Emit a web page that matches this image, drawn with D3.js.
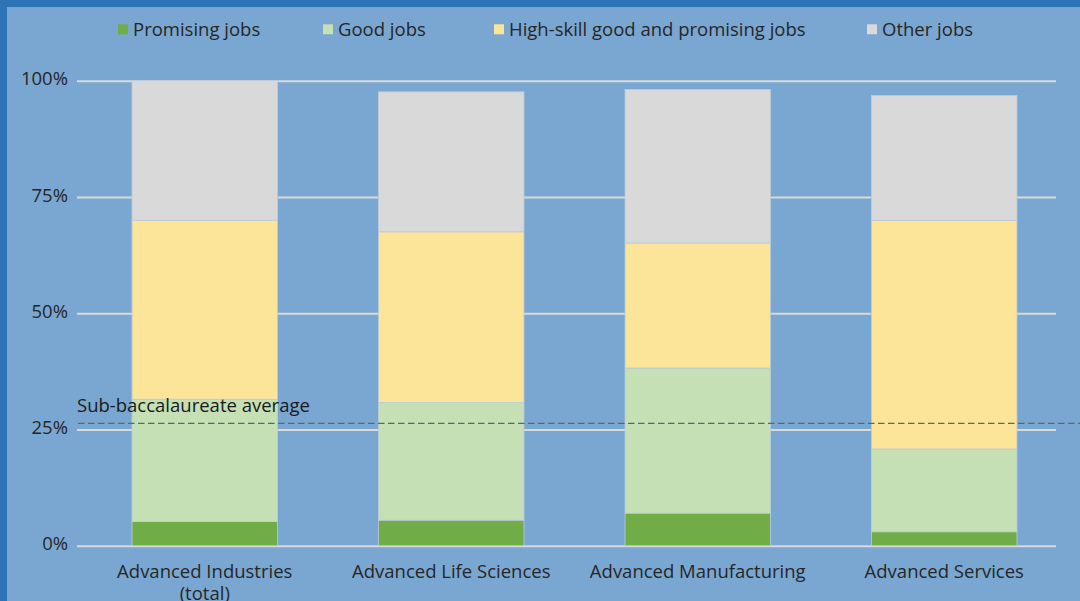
<!DOCTYPE html>
<html>
<head>
<meta charset="utf-8">
<script src="https://cdn.jsdelivr.net/npm/d3@7"></script>
<style>
  body { margin: 0; background: #7aa7d1; }
  text { font-family: "Open Sans", sans-serif; fill: #262626; }
</style>
</head>
<body>
<div id="grafica"></div>
<script>
// datos del grafico (porcentaje del empleo)
const categories = ["Advanced Industries (total)", "Advanced Life Sciences", "Advanced Manufacturing", "Advanced Services"];
const seriesNames = ["Promising jobs", "Good jobs", "High-skill good and promising jobs", "Other jobs"];
const promisingJobs = [5.2, 5.5, 7.0, 3.0];
const goodJobs = [26.3, 25.3, 31.2, 17.8];
const highSkillJobs = [38.5, 36.7, 26.9, 49.2];
const otherJobs = [30.0, 30.1, 33.0, 26.8];
const yTicks = [0, 25, 50, 75, 100];
const subBaccAverage = 26.3;
const subBaccLabel = "Sub-baccalaureate average";

// estilos
const colors = ["#70ad47", "#c5e0b4", "#fce598", "#d9d9d9"];
const width = 1080, height = 601;
const fontSize = 18.5;
const legendX = [118, 323, 494, 867];

const rows = categories.map((c, i) => ({
  category: c,
  "Promising jobs": promisingJobs[i],
  "Good jobs": goodJobs[i],
  "High-skill good and promising jobs": highSkillJobs[i],
  "Other jobs": otherJobs[i]
}));
const stacked = d3.stack().keys(seriesNames)(rows);

const svg = d3.select("#grafica").append("svg")
  .attr("width", width)
  .attr("height", height);

svg.append("rect").attr("width", width).attr("height", height).attr("fill", "#7aa7d1");
// borde azul oscuro arriba e izquierda
svg.append("rect").attr("width", width).attr("height", 7).attr("fill", "#2e75b6");
svg.append("rect").attr("width", 7).attr("height", height).attr("fill", "#2e75b6");

const y = d3.scaleLinear().domain([0, 100]).range([545.7, 80.7]);
const x = d3.scaleBand().domain(categories).range([81.5, 1067.5])
  .paddingInner(0.41).paddingOuter(0.205);

// eje Y con lineas de grilla
const gridLeft = 77, gridRight = 1056;
const yAxis = svg.append("g")
  .attr("transform", `translate(${gridLeft},0)`)
  .call(d3.axisLeft(y).tickValues(yTicks).tickFormat(d => d + "%")
    .tickSize(-(gridRight - gridLeft)).tickPadding(9));
yAxis.select(".domain").remove();
yAxis.selectAll("line").attr("stroke", "#d9d9d9").attr("stroke-width", 2);
yAxis.selectAll("text")
  .attr("font-size", fontSize)
  .attr("dy", "0.22em")
  .style("font-family", null);

// barras apiladas
svg.append("g").selectAll("g")
  .data(stacked).enter()
  .append("g")
  .attr("fill", (d, i) => colors[i])
  .selectAll("rect")
  .data(d => d).enter()
  .append("rect")
  .attr("x", d => x(d.data.category))
  .attr("width", x.bandwidth())
  .attr("y", d => y(d[1]))
  .attr("height", d => y(d[0]) - y(d[1]))
  .attr("stroke", "#bccbd9")
  .attr("stroke-width", 0.8);

// eje X
const xAxis = svg.append("g")
  .attr("transform", `translate(0,${y(0)})`)
  .call(d3.axisBottom(x).tickSize(0).tickPadding(19.5));
xAxis.select(".domain").remove();
xAxis.selectAll("text")
  .attr("font-size", fontSize)
  .style("font-family", null)
  .call(wrap, 222);

// linea punteada promedio
svg.append("line")
  .attr("x1", 78).attr("x2", width)
  .attr("y1", y(subBaccAverage)).attr("y2", y(subBaccAverage))
  .attr("stroke", "#596570")
  .attr("stroke-width", 1.3)
  .attr("stroke-dasharray", "6.5,3.5");

svg.append("text")
  .attr("x", 77)
  .attr("y", 412.3)
  .attr("font-size", fontSize)
  .style("fill", "#1a1a1a")
  .text(subBaccLabel);

// leyenda
const legend = svg.append("g").selectAll("g")
  .data(seriesNames).enter()
  .append("g")
  .attr("transform", (d, i) => `translate(${legendX[i]},0)`);
legend.append("rect")
  .attr("y", 24.3).attr("width", 10).attr("height", 10)
  .attr("fill", (d, i) => colors[i]);
legend.append("text")
  .attr("x", 15).attr("y", 35.7)
  .attr("font-size", fontSize)
  .text(d => d);

function wrap(text, maxWidth) {
  text.each(function () {
    const t = d3.select(this);
    const words = t.text().split(/\s+/);
    const yy = t.attr("y"), dy = parseFloat(t.attr("dy"));
    let line = [], lineNumber = 0;
    let tspan = t.text(null).append("tspan").attr("x", 0).attr("y", yy).attr("dy", dy + "em");
    words.forEach(w => {
      line.push(w);
      tspan.text(line.join(" "));
      if (tspan.node().getComputedTextLength() > maxWidth && line.length > 1) {
        line.pop();
        tspan.text(line.join(" "));
        line = [w];
        tspan = t.append("tspan").attr("x", 0).attr("y", yy)
          .attr("dy", (++lineNumber * 1.18 + dy) + "em").text(w);
      }
    });
  });
}
</script>
</body>
</html>
